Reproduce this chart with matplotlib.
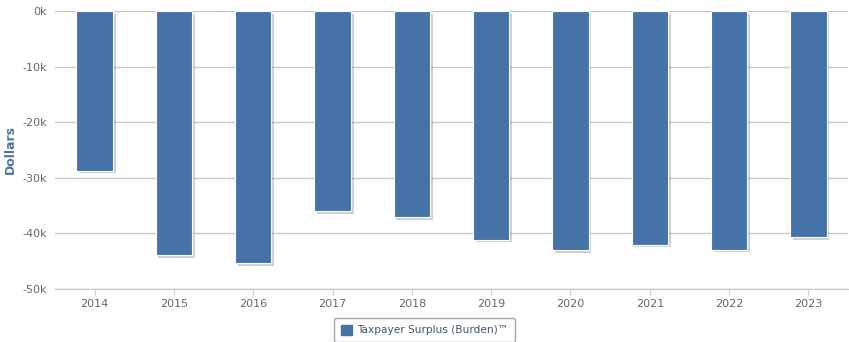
import matplotlib
matplotlib.use('Agg')
from matplotlib import pyplot as plt
import matplotlib.patheffects as pe
from matplotlib.patches import Patch
from matplotlib.ticker import FuncFormatter

years = ['2014', '2015', '2016', '2017', '2018', '2019', '2020', '2021', '2022', '2023']
surplus = [-28700, -43900, -45300, -36000, -37100, -41100, -43000, -42000, -42900, -40600]

bar_color = '#4572a7'

fig = plt.figure(figsize=(8.49, 3.42), dpi=100)
ax = fig.add_axes([55 / 849, 1 - 289 / 342, 793 / 849, 278 / 342])

x = range(len(years))
bars = ax.bar(x, surplus, width=0.46, color=bar_color, edgecolor='white', linewidth=0.8, zorder=3)
for b in bars:
    b.set_path_effects([pe.SimplePatchShadow(offset=(2, -2), shadow_rgbFace='#666666', alpha=0.3),
                        pe.Normal()])

ax.set_xlim(-0.5, len(years) - 0.5)
ax.set_ylim(-50000, 0)
ax.set_yticks(range(-50000, 1, 10000))
ax.yaxis.set_major_formatter(FuncFormatter(lambda v, p: '%dk' % round(v / 1000)))
ax.set_xticks(list(x))
ax.set_xticklabels(years)

ax.grid(axis='y', color='#c8c8c8', linewidth=1, zorder=0)
for s in ['top', 'right', 'left']:
    ax.spines[s].set_visible(False)
ax.spines['bottom'].set_color('#c0d0e0')
ax.spines['bottom'].set_linewidth(1)
ax.spines['bottom'].set_zorder(4)

ax.tick_params(axis='y', length=0, labelsize=8, labelcolor='#666666', pad=6)
ax.tick_params(axis='x', length=4, color='#c0d0e0', labelsize=8, labelcolor='#666666', pad=3)

ax.set_ylabel('Dollars', fontsize=9, fontweight='bold', color='#4d759e')
ax.yaxis.set_label_coords(-38 / 793, 0.5)

handle = Patch(facecolor=bar_color, edgecolor=bar_color, label='Taxpayer Surplus (Burden)™')
leg = fig.legend(handles=[handle], loc='upper center', bbox_to_anchor=(0.5, 1 - 313 / 342),
                 frameon=True, fancybox=True, handlelength=1.0, handleheight=1.0,
                 handletextpad=0.5, borderpad=0.65, prop={'size': 7.6})
leg.get_frame().set_edgecolor('#909090')
leg.get_frame().set_linewidth(1)
for t in leg.get_texts():
    t.set_color('#3e576f')

fig.savefig('out.png', dpi=100)
